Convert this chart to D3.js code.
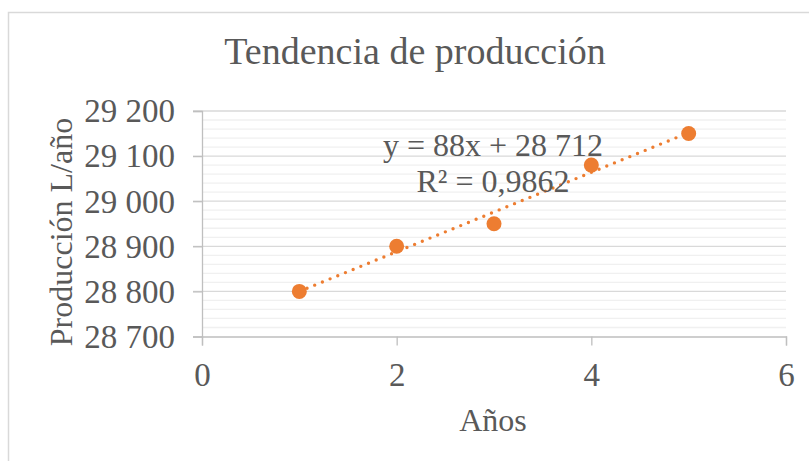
<!DOCTYPE html>
<html><head><meta charset="utf-8">
<script src="https://cdn.jsdelivr.net/npm/d3@7"></script>
<style>body{margin:0;background:#fff}svg{display:block}</style>
</head><body>
<svg id="c" width="809" height="461"></svg>
<script>
const years = [1, 2, 3, 4, 5];
const production = [28800, 28900, 28950, 29080, 29150];
const xTicks = [0, 2, 4, 6];
const yTicks = [28700, 28800, 28900, 29000, 29100, 29200];
const titleText = "Tendencia de producción";
const xTitle = "Años";
const yTitle = "Producción L/año";
const eqLines = ["y = 88x + 28 712", "R² = 0,9862"];

const svg = d3.select("#c");
const font = "'Liberation Serif','Times New Roman',serif";
const txt = "#595959";
const orange = "#ED7D31";

// chart frame
svg.append("rect").attr("x", 8.5).attr("y", 12.5).attr("width", 900).attr("height", 600)
  .attr("fill", "none").attr("stroke", "#d9d9d9").attr("stroke-width", 1.5);

const x = d3.scaleLinear().domain([0, 6]).range([202, 786]);
const y = d3.scaleLinear().domain([28700, 29200]).range([336.5, 111]);

// minor gridlines
const minor = d3.range(28700, 29200.1, 20).filter(v => v % 100 !== 0);
svg.append("g").selectAll("line").data(minor).join("line")
  .attr("x1", x(0)).attr("x2", x(6)).attr("y1", d => y(d)).attr("y2", d => y(d))
  .attr("stroke", "#f0f0f0").attr("stroke-width", 1.3);

// major gridlines
svg.append("g").selectAll("line").data(yTicks.filter(v => v !== 28700)).join("line")
  .attr("x1", x(0) - 9).attr("x2", x(6)).attr("y1", d => y(d)).attr("y2", d => y(d))
  .attr("stroke", "#d9d9d9").attr("stroke-width", 1.3);

// y axis
const yAxis = svg.append("g").attr("transform", `translate(${x(0)},0)`)
  .call(d3.axisLeft(y).tickValues(yTicks).tickSize(9).tickPadding(18)
    .tickFormat(d => d3.format(",")(d).replace(",", " ")));
yAxis.select(".domain").attr("stroke", "#bfbfbf").attr("stroke-width", 1.3);
yAxis.selectAll(".tick line").attr("stroke", "#bfbfbf").attr("stroke-width", 1.3);
yAxis.selectAll("text").attr("font-family", font).attr("font-size", 33).attr("fill", txt)
  .attr("dy", "0.33em");

// x axis
const xAxis = svg.append("g").attr("transform", `translate(0,${y(28700)})`)
  .call(d3.axisBottom(x).tickValues(xTicks).tickSize(9).tickFormat(d3.format("d")));
xAxis.select(".domain").attr("stroke", "#bfbfbf").attr("stroke-width", 1.3);
xAxis.selectAll(".tick line").attr("stroke", "#bfbfbf").attr("stroke-width", 1.3);
xAxis.selectAll("text").attr("font-family", font).attr("font-size", 33).attr("fill", txt)
  .attr("y", 49).attr("dy", 0);

// trendline (least squares)
const mx = d3.mean(years), my = d3.mean(production);
const slope = d3.sum(years.map((v, i) => (v - mx) * (production[i] - my))) / d3.sum(years.map(v => (v - mx) ** 2));
const icpt = my - slope * mx;
const ext = d3.extent(years);
svg.append("line")
  .attr("x1", x(ext[0])).attr("y1", y(icpt + slope * ext[0]))
  .attr("x2", x(ext[1])).attr("y2", y(icpt + slope * ext[1]))
  .attr("stroke", orange).attr("stroke-width", 3.4).attr("stroke-linecap", "round")
  .attr("stroke-dasharray", "0 8.3");

// points
svg.append("g").selectAll("circle").data(years).join("circle")
  .attr("cx", d => x(d)).attr("cy", (d, i) => y(production[i])).attr("r", 7.5)
  .attr("fill", orange);

// equation label
svg.append("text").attr("font-family", font).attr("font-size", 32).attr("fill", txt)
  .attr("text-anchor", "middle")
  .selectAll("tspan").data(eqLines).join("tspan")
  .attr("x", 493).attr("y", (d, i) => 156 + i * 36).text(d => d);

// title
svg.append("text").attr("x", 415).attr("y", 64).attr("text-anchor", "middle")
  .attr("font-family", font).attr("font-size", 38).attr("fill", txt).text(titleText);

// axis titles
svg.append("text").attr("x", 493).attr("y", 431).attr("text-anchor", "middle")
  .attr("font-family", font).attr("font-size", 32).attr("fill", txt).text(xTitle);
svg.append("text").attr("transform", "translate(72,232) rotate(-90)").attr("text-anchor", "middle")
  .attr("font-family", font).attr("font-size", 32).attr("fill", txt).text(yTitle);
</script>
</body></html>
